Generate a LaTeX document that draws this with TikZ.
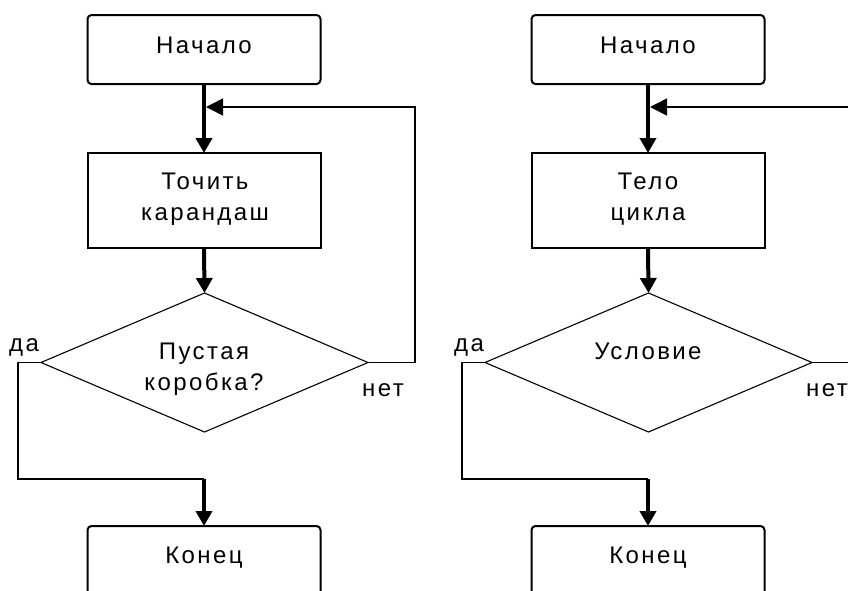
\documentclass[tikz,border=0pt]{standalone}
\usepackage{fontspec}
\setmainfont{Liberation Sans}[LetterSpace=10]
\usetikzlibrary{arrows.meta,shapes.geometric}
\tikzset{
  boxrect/.style={draw, line width=2pt, minimum width=233pt, inner sep=0pt, outer sep=0pt},
  termbox/.style={boxrect, rounded corners=4pt},
  decision/.style={draw, diamond, line width=1.1pt, minimum width=327pt, minimum height=139pt, inner sep=0pt, outer sep=0pt},
  flow/.style={line width=4pt, -{Triangle[length=15pt,width=16pt]}},
  loopline/.style={line width=1.6pt, -{Triangle[length=17pt,width=17pt]}},
  branch/.style={line width=1.6pt},
  txt/.style={font=\fontsize{24}{31}\selectfont, inner sep=0pt, align=center, anchor=base},
}
\begin{document}
\begin{tikzpicture}[x=1pt,y=-1pt]
\clip (0,0) rectangle (848,590);
\fill[white] (0,0) rectangle (848,590);
% ---------- left diagram ----------
\node[termbox, minimum height=69pt] (start1) at (204,49.5) {};
\node[boxrect, minimum height=95pt] (body1) at (204,200.5) {};
\node[decision] (cond1) at (204.5,362.5) {};
\node[termbox, minimum height=80pt] (end1) at (204,566) {};
\node[txt] (ts1) at (204,53) {Начало};
\node[txt] (tb1) at (205,220) {Точить\\карандаш};
\node[txt] (tc1) at (204,390) {Пустая\\коробка?};
\node[txt] (te1) at (204,563) {Конец};
\node[txt, anchor=base west] (yes1) at (9,351) {да};
\node[txt, anchor=base west] (no1) at (362,396) {нет};
\coordinate (m1) at (206,107);
\coordinate (r1) at (415,107);
\coordinate (l1) at (18,479);
\coordinate (j1) at (204,479);
\draw[flow] (start1.south) -- (body1.north);
\draw[flow] (body1.south) -- (cond1.north);
\draw[loopline] (cond1.east) -| (r1) -- (m1);
\draw[branch] (cond1.west) -| (l1) -- (j1);
\draw[flow] (j1) -- (end1.north);
% ---------- right diagram ----------
\node[termbox, minimum height=69pt] (start2) at (648,49.5) {};
\node[boxrect, minimum height=95pt] (body2) at (648,200.5) {};
\node[decision] (cond2) at (648.5,362.5) {};
\node[termbox, minimum height=80pt] (end2) at (648,566) {};
\node[txt] (ts2) at (648,53) {Начало};
\node[txt] (tb2) at (648,220) {Тело\\цикла};
\node[txt] (tc2) at (648,359) {Условие};
\node[txt] (te2) at (648,563) {Конец};
\node[txt, anchor=base west] (yes2) at (454,351) {да};
\node[txt, anchor=base west] (no2) at (806,396) {нет};
\coordinate (m2) at (650,107);
\coordinate (r2) at (870,107);
\coordinate (l2) at (462,479);
\coordinate (j2) at (648,479);
\draw[flow] (start2.south) -- (body2.north);
\draw[flow] (body2.south) -- (cond2.north);
\draw[loopline] (cond2.east) -| (r2) -- (m2);
\draw[branch] (cond2.west) -| (l2) -- (j2);
\draw[flow] (j2) -- (end2.north);
\end{tikzpicture}
\end{document}
